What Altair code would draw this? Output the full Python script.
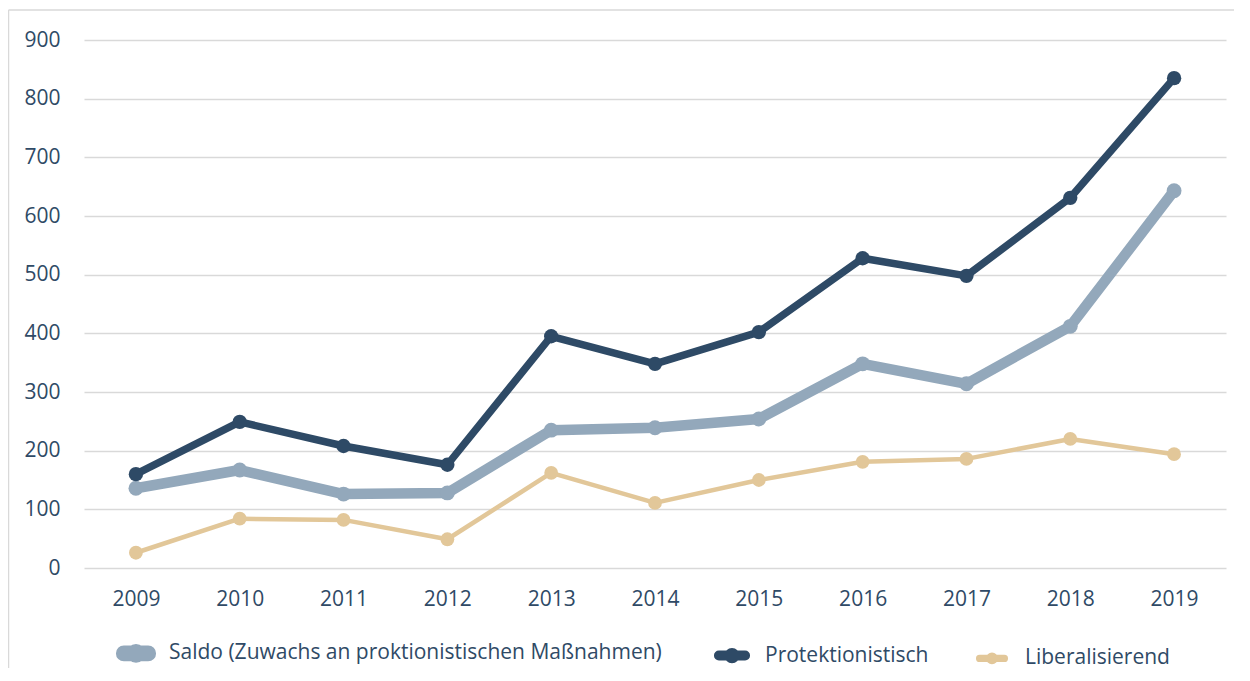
import altair as alt
import pandas as pd

years = ["2009", "2010", "2011", "2012", "2013", "2014", "2015", "2016", "2017", "2018", "2019"]
saldo = [136, 167, 126, 128, 235, 239, 254, 348, 314, 412, 643]
protektionistisch = [160, 249, 208, 176, 395, 348, 402, 528, 498, 631, 835]
liberalisierend = [26, 84, 82, 49, 162, 111, 150, 181, 186, 220, 194]
series_names = [
    "Saldo (Zuwachs an proktionistischen Maßnahmen)",
    "Protektionistisch",
    "Liberalisierend",
]
y_ticks = [0, 100, 200, 300, 400, 500, 600, 700, 800, 900]

colors = ["#93a8bb", "#2e4a66", "#e2c799"]
line_widths = [10.5, 4.5, 5.5]
point_sizes = [220, 190, 180]
text_color = "#2f4a66"
font = "Open Sans"

rows = []
for name, vals in zip(series_names, [saldo, protektionistisch, liberalisierend]):
    for yr, v in zip(years, vals):
        rows.append({"year": yr, "value": v, "series": name, "style": name})
df = pd.DataFrame(rows)


def sym(h, r, half=2.0):
    a = round(half - h, 3)
    return (f"M-{a},-{h} L{a},-{h} A{h},{h} 0 0,1 {a},{h} L-{a},{h} "
            f"A{h},{h} 0 0,1 -{a},-{h} Z "
            f"M{r},0 A{r},{r} 0 1,1 -{r},0 A{r},{r} 0 1,1 {r},0 Z")


legend_shapes = [sym(0.36, 0.57), sym(0.17, 0.54), sym(0.2, 0.54)]

legend = alt.Legend(
    title=None,
    orient="none",
    legendX=39,
    legendY=600,
    direction="horizontal",
    columns=3,
    columnPadding=40,
    symbolStrokeWidth=0,
    symbolOpacity=1,
    labelOffset=20,
    labelFont=font,
    labelFontSize=21,
    labelColor=text_color,
    padding=0,
    labelLimit=0,
)

x_enc = alt.X("year:N", sort=years, scale=alt.Scale(type="point", padding=0.5),
              axis=alt.Axis(title=None, ticks=False, tickSize=0, domain=False, grid=False,
                            labelAngle=0, labelPadding=20, labelFont=font,
                            labelFontSize=21, labelColor=text_color))
y_enc = alt.Y("value:Q", scale=alt.Scale(domain=[0, 900], nice=False),
              axis=alt.Axis(title=None, values=y_ticks, ticks=False, tickSize=0, domain=False,
                            grid=True, gridColor="#d9d9d9", gridWidth=1.5,
                            labelPadding=24, labelFont=font, labelFontSize=21,
                            labelColor=text_color))
color_enc = alt.Color("series:N", scale=alt.Scale(domain=series_names, range=colors),
                      sort=series_names, legend=legend)
shape_enc = alt.Shape("series:N", scale=alt.Scale(domain=series_names, range=legend_shapes),
                      sort=series_names, legend=legend)

base = alt.Chart(df)

lines = base.mark_line(strokeCap="round", strokeJoin="round").encode(
    x=x_enc, y=y_enc, color=color_enc,
    strokeWidth=alt.StrokeWidth("style:N", scale=alt.Scale(domain=series_names, range=line_widths), legend=None),
)
points = base.mark_point(filled=True, opacity=1, shape="circle").encode(
    x=x_enc, y=y_enc, color=color_enc,
    size=alt.Size("style:N", scale=alt.Scale(domain=series_names, range=point_sizes), legend=None),
)
legend_layer = base.mark_point(filled=True, opacity=1).encode(
    x=x_enc, y=y_enc, color=color_enc, shape=shape_enc,
).transform_filter("datum.value < 0")

frame = alt.Data(values=[{}])
top_rule = alt.Chart(frame).mark_rule(color="#d9d9d9", strokeWidth=1.5).encode(
    x=alt.value(-75.5), x2=alt.value(1200), y=alt.value(-30))
left_rule = alt.Chart(frame).mark_rule(color="#d9d9d9", strokeWidth=1.5).encode(
    x=alt.value(-75.5), y=alt.value(-30), y2=alt.value(700))

chart = alt.layer(top_rule, left_rule, lines, points, legend_layer).properties(
    width=1142, height=528,
    padding={"left": 76, "top": 32, "right": 8, "bottom": 100},
    autosize=alt.AutoSizeParams(type="none"),
    background="white",
).configure_view(stroke=None)

chart.save("out.html", embed_options={"renderer": "svg", "actions": False})
